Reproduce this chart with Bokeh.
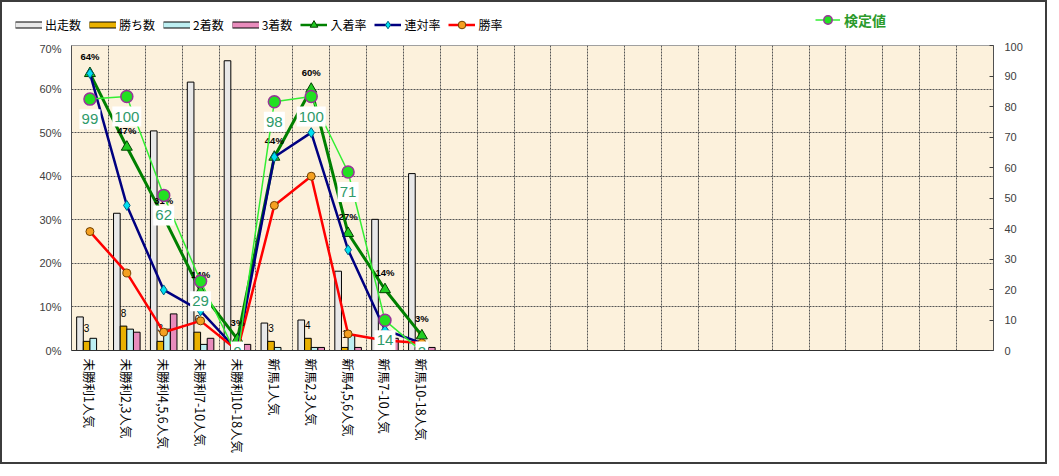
import math
from bokeh.plotting import figure
from bokeh.models import (Range1d, LinearAxis, FixedTicker, NumeralTickFormatter, Legend,
                          LegendItem, ColumnDataSource)
from bokeh.transform import dodge
from bokeh.core.properties import value
from bokeh.embed import file_html
from bokeh.resources import INLINE

# ---------------- data ----------------
categories = ["未勝利1人気", "未勝利2,3人気", "未勝利4,5,6人気", "未勝利7-10人気", "未勝利10-18人気",
              "新馬1人気", "新馬2,3人気", "新馬4,5,6人気", "新馬7-10人気", "新馬10-18人気"]
n_slots = 25
starts = [11, 45, 72, 88, 95, 9, 10, 26, 43, 58]        # 出走数
wins = [3, 8, 3, 6, 0, 3, 4, 1, 1, 1]                   # 勝ち数
seconds = [4, 7, 7, 2, 0, 1, 1, 5, 1, 0]                # 2着数
thirds = [0, 6, 12, 4, 2, 0, 1, 1, 4, 1]                # 3着数
place_rate = [63.6, 46.7, 30.6, 13.6, 2.6, 44.4, 60.0, 26.9, 14.0, 3.4]     # 入着率 %
quinella_rate = [63.6, 33.3, 13.9, 9.1, 0.0, 44.4, 50.0, 23.1, 4.7, 1.7]    # 連対率 %
win_rate = [27.3, 17.8, 4.2, 6.8, 0.0, 33.3, 40.0, 3.8, 2.3, 1.7]          # 勝率 %
kentei = [99, 100, 62, 29, 0, 98, 100, 71, 14, 2]                          # 検定値
left_ticks = [0, 10, 20, 30, 40, 50, 60, 70]
right_ticks = [0, 10, 20, 30, 40, 50, 60, 70, 80, 90, 100]

# ---------------- derived ----------------
centers = [i + 0.5 for i in range(len(categories))]
def pct_label(v):
    return f"{int(v + 0.5)}%"

src = ColumnDataSource(dict(
    x=centers,
    starts=starts, wins=wins, seconds=seconds, thirds=thirds,
    place=[v / 100 for v in place_rate],
    quin=[v / 100 for v in quinella_rate],
    win=[v / 100 for v in win_rate],
    place_lbl=[pct_label(v) for v in place_rate],
    wins_lbl=[str(w) if w else "" for w in wins],
    kentei=kentei,
    k_lbl=[str(k) for k in kentei],
    k_lbl_y=[max(k - 7.7, 2.0) for k in kentei],
    k_box_w=[8 * len(str(k)) + 5 for k in kentei],
))

JP = "Noto Sans CJK JP"
BORDER = "2px solid #3C3C3C"

# colours / styles
C_RUN, C_WIN, C_2ND, C_3RD = "#E8E8E8", "#E8B000", "#BDEFF2", "#E88CBC"
C_PLACE, C_QUIN, C_WINR, C_K = "#008000", "#000080", "#FF0000", "#33EE33"
MK_PLACE = dict(marker="triangle", size=11, fill_color="#22CC22", line_color="#004000", line_width=1)
MK_QUIN = dict(marker="diamond", size=10, fill_color="#00E0F0", line_color="#006080", line_width=1)
MK_WIN = dict(marker="circle", size=8, fill_color="#F5A020", line_color="#704000", line_width=1)
MK_K = dict(marker="circle", size=12, fill_color="#22E022", line_color="#993399", line_width=1.5)

# ================= main chart =================
p = figure(width=1043, height=420, output_backend="svg", toolbar_location=None,
           x_range=Range1d(0, n_slots), y_range=Range1d(0, 0.7),
           min_border_left=69, min_border_right=56, min_border_top=3, min_border_bottom=114,
           background_fill_color="#FCF1DC", border_fill_color="white",
           outline_line_color="#A0A0A0", outline_line_width=1)
p.styles = {"box-sizing": "content-box", "border-left": BORDER, "border-right": BORDER,
            "border-bottom": BORDER}

p.extra_y_ranges = {"cnt": Range1d(0, 100), "kentei": Range1d(2.4, 119.6)}

# grids
p.xgrid.ticker = FixedTicker(ticks=list(range(1, n_slots)))
p.ygrid.ticker = FixedTicker(ticks=[t / 100 for t in left_ticks[1:-1]])
for g in (p.xgrid, p.ygrid):
    g.grid_line_color = "#555555"
    g.grid_line_dash = "2 1"
    g.grid_line_width = 1

# x axis
xa = p.xaxis[0]
xa.ticker = FixedTicker(ticks=centers)
xa.major_label_overrides = {c: name for c, name in zip(centers, categories)}
xa.major_label_orientation = -math.pi / 2
xa.major_label_text_font = JP
xa.major_label_text_font_size = "12.5px"
xa.major_label_text_color = "black"
xa.major_label_standoff = 8
xa.major_tick_in = 0
xa.major_tick_out = 0
xa.minor_tick_in = 0
xa.minor_tick_out = 0
xa.axis_line_color = "#303030"

# left axis
ya = p.yaxis[0]
ya.ticker = FixedTicker(ticks=[t / 100 for t in left_ticks])
ya.formatter = NumeralTickFormatter(format="0%")
ya.major_label_text_font = "Liberation Sans"
ya.major_label_text_font_size = "11px"
ya.major_label_text_color = "#404040"
ya.major_tick_in = 0
ya.major_tick_out = 0
ya.minor_tick_in = 0
ya.minor_tick_out = 0
ya.major_label_standoff = 10
ya.axis_line_color = "#505050"

# right axis
ra = LinearAxis(y_range_name="cnt", ticker=FixedTicker(ticks=right_ticks))
ra.major_label_text_font = "Liberation Sans"
ra.major_label_text_font_size = "11px"
ra.major_label_text_color = "#404040"
ra.major_tick_in = 4
ra.major_tick_out = 0
ra.minor_tick_in = 0
ra.minor_tick_out = 0
ra.major_tick_line_color = "#404040"
ra.major_label_standoff = 11
ra.axis_line_color = "#505050"
p.add_layout(ra, "right")

# bars
bw = 0.18
p.vbar(x=dodge("x", -0.27, range=p.x_range), top="starts", width=bw, source=src,
       y_range_name="cnt", fill_color=C_RUN, line_color="black", line_width=1)
p.vbar(x=dodge("x", -0.09, range=p.x_range), top="wins", width=bw, source=src,
       y_range_name="cnt", fill_color=C_WIN, line_color="black", line_width=1)
p.vbar(x=dodge("x", 0.09, range=p.x_range), top="seconds", width=bw, source=src,
       y_range_name="cnt", fill_color=C_2ND, line_color="black", line_width=1)
p.vbar(x=dodge("x", 0.27, range=p.x_range), top="thirds", width=bw, source=src,
       y_range_name="cnt", fill_color=C_3RD, line_color="black", line_width=1)

# win count labels
p.text(x=dodge("x", -0.09, range=p.x_range), y="wins", text="wins_lbl", source=src,
       y_range_name="cnt", y_offset=-13, text_align="center", text_baseline="middle",
       text_font=value("Liberation Sans"), text_font_size="10px", text_color="black")

# rate lines
p.line("x", "place", source=src, line_color=C_PLACE, line_width=3)
p.scatter("x", "place", source=src, **MK_PLACE)
p.line("x", "quin", source=src, line_color=C_QUIN, line_width=2.5)
p.scatter("x", "quin", source=src, **MK_QUIN)
p.line("x", "win", source=src, line_color=C_WINR, line_width=2.5)
p.scatter("x", "win", source=src, **MK_WIN)

# 入着率 labels
p.text(x="x", y="place", text="place_lbl", source=src, y_offset=-17,
       text_align="center", text_baseline="middle",
       text_font=value("Liberation Sans"), text_font_size="9.5px", text_font_style="bold",
       text_color="black")

# 検定値
p.line("x", "kentei", source=src, y_range_name="kentei", line_color=C_K, line_width=1.5)
p.scatter("x", "kentei", source=src, y_range_name="kentei", **MK_K)
p.rect(x="x", y="k_lbl_y", width="k_box_w", height=20, width_units="screen", height_units="screen",
       source=src, y_range_name="kentei", fill_color="white", line_color=None)
p.text(x="x", y="k_lbl_y", text="k_lbl", source=src, y_range_name="kentei",
       text_align="center", text_baseline="middle",
       text_font=value("Liberation Sans"), text_font_size="15px", text_color="#2E9A6A")

# ================= legend strip =================
lf = figure(width=1043, height=40, output_backend="svg", toolbar_location=None,
            x_range=Range1d(0, 1), y_range=Range1d(0, 1),
            x_axis_location=None, y_axis_location=None, min_border=0,
            outline_line_color=None, background_fill_color="white", border_fill_color="white")
lf.styles = {"box-sizing": "content-box", "border-left": BORDER, "border-right": BORDER,
             "border-top": BORDER}
lf.grid.visible = False

def bar_proxy(col, color):
    r1 = lf.line(x="x", y=col, source=src, line_color="black", line_width=7, visible=False)
    r2 = lf.line(x="x", y=col, source=src, line_color=color, line_width=5, visible=False)
    return [r1, r2]

def line_proxy(col, color, width, mk):
    r1 = lf.line(x="x", y=col, source=src, line_color=color, line_width=width, visible=False)
    r2 = lf.scatter(x="x", y=col, source=src, visible=False, **mk)
    return [r1, r2]

items = [
    LegendItem(label="出走数", renderers=bar_proxy("starts", C_RUN)),
    LegendItem(label="勝ち数", renderers=bar_proxy("wins", C_WIN)),
    LegendItem(label="2着数", renderers=bar_proxy("seconds", C_2ND)),
    LegendItem(label="3着数", renderers=bar_proxy("thirds", C_3RD)),
    LegendItem(label="入着率", renderers=line_proxy("place", C_PLACE, 2.5, MK_PLACE)),
    LegendItem(label="連対率", renderers=line_proxy("quin", C_QUIN, 2.5, MK_QUIN)),
    LegendItem(label="勝率", renderers=line_proxy("win", C_WINR, 2.5, MK_WIN)),
]
common = dict(orientation="horizontal", padding=0, margin=0, border_line_color=None,
              background_fill_alpha=0, inactive_fill_alpha=0, label_text_font=JP)
leg_main = Legend(items=items, location=(13, 10),
                  glyph_width=27, glyph_height=19, label_height=19, label_standoff=3, spacing=8,
                  label_text_font_size="12px", label_text_color="black", **common)
leg_k = Legend(items=[LegendItem(label="検定値", renderers=line_proxy("kentei", C_K, 1.5, MK_K))],
               location=(813, 14),
               glyph_width=25, glyph_height=21, label_height=21, label_standoff=4, spacing=0,
               label_text_font_size="14px", label_text_font_style="bold",
               label_text_color="#2B9A2B", **common)
lf.add_layout(leg_main, "center")
lf.add_layout(leg_k, "center")

open("out.html", "w").write(file_html([lf, p], INLINE))
